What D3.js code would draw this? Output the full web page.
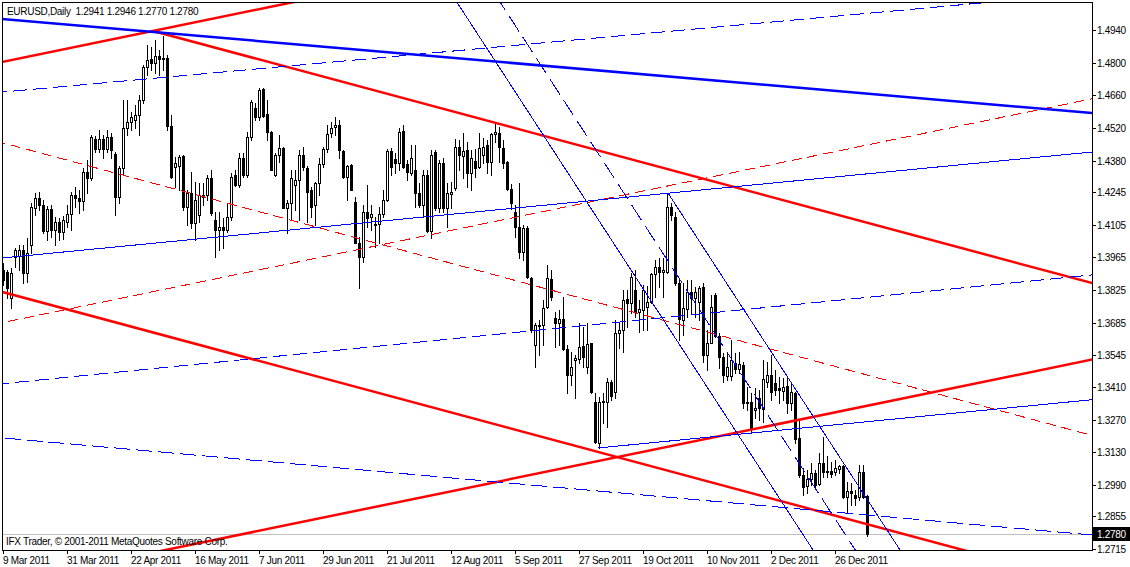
<!DOCTYPE html>
<html><head><meta charset="utf-8">
<script src="https://cdn.jsdelivr.net/npm/d3@7"></script>
<style>
html,body{margin:0;padding:0;background:#fff;overflow:hidden}
text{font-family:"Liberation Sans",Arial,sans-serif;font-size:10px;letter-spacing:-0.3px;fill:#000;white-space:pre}
</style>
</head><body>
<svg id="c" width="1130" height="567"></svg>
<script>
const symbolTitle = "EURUSD,Daily  1.2941 1.2946 1.2770 1.2780";
const copyright = "IFX Trader, \u00a9 2001-2011 MetaQuotes Software Corp.";
const lastPrice = 1.2780;

const opens = [1.3911,1.3902,1.3791,1.3967,1.3971,1.3997,1.3898,1.4018,1.4177,1.4220,
1.4190,1.4078,1.4173,1.4083,1.4117,1.4074,1.4117,1.4151,1.4233,1.4220,
1.4207,1.4331,1.4306,1.4473,1.4430,1.4473,1.4430,1.4481,1.4408,1.4224,
1.4348,1.4520,1.4546,1.4554,1.4576,1.4640,1.4781,1.4816,1.4799,1.4828,
1.4816,1.4820,1.4528,1.4353,1.4357,1.4400,1.4181,1.4241,1.4113,1.4147,
1.4224,1.4233,1.4306,1.4125,1.4083,1.4095,1.4083,1.4138,1.4318,1.4276,
1.4391,1.4318,1.4481,1.4606,1.4567,1.4687,1.4580,1.4503,1.4318,1.4404,
1.4434,1.4177,1.4198,1.4276,1.4297,1.4404,1.4348,1.4254,1.4190,1.4284,
1.4366,1.4430,1.4498,1.4524,1.4533,1.4421,1.4310,1.4361,1.4203,1.4027,
1.3967,1.4160,1.4138,1.4108,1.4108,1.4151,1.4211,1.4421,1.4387,1.4370,
1.4507,1.4366,1.4327,1.4340,1.4241,1.4190,1.4318,1.4078,1.4417,1.4177,
1.4370,1.4177,1.4237,1.4263,1.4438,1.4400,1.4426,1.4327,1.4378,1.4353,
1.4404,1.4447,1.4374,1.4494,1.4498,1.4434,1.4374,1.4258,1.4160,1.4095,
1.3988,1.4091,1.3877,1.3589,1.3671,1.3675,1.3752,1.3873,1.3705,1.3684,
1.3701,1.3572,1.3461,1.3525,1.3530,1.3585,1.3495,1.3598,1.3345,1.3169,
1.3345,1.3345,1.3431,1.3388,1.3641,1.3654,1.3787,1.3770,1.3825,1.3731,
1.3740,1.3752,1.3774,1.3894,1.3924,1.3902,1.3902,1.4181,1.4138,1.3855,
1.3697,1.3744,1.3817,1.3791,1.3774,1.3838,1.3547,1.3598,1.3804,1.3628,
1.3538,1.3457,1.3457,1.3512,1.3487,1.3504,1.3345,1.3345,1.3311,1.3362,
1.3315,1.3431,1.3461,1.3427,1.3405,1.3392,1.3414,1.3341,1.3384,1.3191,
1.3032,1.2985,1.3015,1.3041,1.2994,1.3084,1.3049,1.3049,1.3045,1.3058,
1.3071,1.2938,1.2964,1.2947,1.2938,1.3045,1.2941];

const highs = [1.3941,1.3911,1.3919,1.4005,1.4018,1.4018,1.4048,1.4198,1.4241,1.4246,
1.4211,1.4185,1.4190,1.4138,1.4134,1.4143,1.4190,1.4246,1.4267,1.4254,
1.4349,1.4383,1.4490,1.4486,1.4511,1.4490,1.4511,1.4498,1.4417,1.4357,
1.4640,1.4640,1.4589,1.4618,1.4661,1.4790,1.4876,1.4867,1.4897,1.4854,
1.4914,1.4833,1.4576,1.4396,1.4404,1.4404,1.4254,1.4331,1.4288,1.4284,
1.4284,1.4318,1.4340,1.4160,1.4160,1.4134,1.4198,1.4327,1.4340,1.4413,
1.4413,1.4503,1.4640,1.4627,1.4691,1.4691,1.4640,1.4507,1.4413,1.4490,
1.4438,1.4211,1.4340,1.4340,1.4426,1.4438,1.4357,1.4267,1.4288,1.4391,
1.4438,1.4533,1.4546,1.4567,1.4554,1.4426,1.4361,1.4366,1.4224,1.4053,
1.4190,1.4276,1.4190,1.4138,1.4181,1.4254,1.4430,1.4434,1.4413,1.4520,
1.4533,1.4383,1.4447,1.4447,1.4284,1.4340,1.4340,1.4426,1.4426,1.4383,
1.4391,1.4284,1.4288,1.4473,1.4468,1.4498,1.4460,1.4426,1.4430,1.4498,
1.4477,1.4468,1.4498,1.4541,1.4524,1.4468,1.4378,1.4280,1.4190,1.4284,
1.4104,1.4100,1.3881,1.3684,1.3697,1.3782,1.3932,1.3911,1.3731,1.3740,
1.3795,1.3589,1.3559,1.3547,1.3684,1.3667,1.3684,1.3598,1.3384,1.3366,
1.3384,1.3448,1.3440,1.3697,1.3684,1.3825,1.3825,1.3898,1.3911,1.3782,
1.3847,1.3843,1.3898,1.3954,1.3963,1.3963,1.4241,1.4198,1.4160,1.3868,
1.3855,1.3868,1.3868,1.3838,1.3843,1.3855,1.3654,1.3804,1.3813,1.3641,
1.3555,1.3559,1.3611,1.3555,1.3559,1.3517,1.3410,1.3384,1.3405,1.3397,
1.3525,1.3517,1.3547,1.3482,1.3452,1.3448,1.3448,1.3427,1.3388,1.3268,
1.3062,1.3054,1.3084,1.3054,1.3127,1.3195,1.3113,1.3088,1.3097,1.3075,
1.3075,1.3002,1.2998,1.2968,1.3075,1.3075,1.2946];

const lows = [1.3847,1.3791,1.3748,1.3924,1.3911,1.3855,1.3860,1.3984,1.4147,1.4168,
1.4070,1.4040,1.4053,1.4018,1.4040,1.4044,1.4095,1.4083,1.4181,1.4155,
1.4168,1.4241,1.4297,1.4417,1.4417,1.4391,1.4417,1.4391,1.4147,1.4198,
1.4318,1.4490,1.4511,1.4520,1.4490,1.4627,1.4747,1.4769,1.4756,1.4747,
1.4769,1.4511,1.4306,1.4267,1.4254,1.4168,1.4104,1.4091,1.4040,1.4117,
1.4190,1.4211,1.4147,1.3967,1.3997,1.4005,1.4074,1.4125,1.4271,1.4267,
1.4310,1.4310,1.4468,1.4554,1.4554,1.4567,1.4468,1.4340,1.4314,1.4374,
1.4177,1.4070,1.4125,1.4168,1.4125,1.4340,1.4117,1.4138,1.4104,1.4233,
1.4353,1.4417,1.4481,1.4490,1.4391,1.4306,1.4211,1.4254,1.4027,1.3834,
1.3945,1.4095,1.4083,1.4010,1.4027,1.4138,1.4207,1.4318,1.4327,1.4340,
1.4348,1.4297,1.4318,1.4181,1.4181,1.4138,1.4074,1.4048,1.4168,1.4160,
1.4160,1.4095,1.4177,1.4254,1.4340,1.4306,1.4267,1.4254,1.4310,1.4348,
1.4370,1.4327,1.4318,1.4460,1.4374,1.4348,1.4254,1.4173,1.4053,1.3963,
1.3954,1.3877,1.3645,1.3495,1.3547,1.3589,1.3748,1.3782,1.3581,1.3589,
1.3568,1.3384,1.3418,1.3362,1.3512,1.3495,1.3469,1.3384,1.3169,1.3148,
1.3255,1.3238,1.3354,1.3362,1.3577,1.3559,1.3667,1.3727,1.3710,1.3645,
1.3654,1.3654,1.3770,1.3795,1.3838,1.3795,1.3898,1.4125,1.3847,1.3611,
1.3632,1.3710,1.3727,1.3710,1.3697,1.3517,1.3482,1.3598,1.3624,1.3491,
1.3431,1.3440,1.3440,1.3469,1.3469,1.3319,1.3311,1.3212,1.3277,1.3268,
1.3259,1.3410,1.3354,1.3375,1.3341,1.3354,1.3298,1.3311,1.3169,1.3024,
1.2947,1.2955,1.2989,1.2981,1.2989,1.3024,1.3024,1.3024,1.3032,1.3041,
1.2934,1.2869,1.2904,1.2904,1.2925,1.2934,1.2770];

const closes = [1.3868,1.3834,1.3898,1.3997,1.3997,1.3898,1.3984,1.4181,1.4220,1.4190,
1.4078,1.4173,1.4083,1.4117,1.4074,1.4125,1.4151,1.4233,1.4220,1.4207,
1.4331,1.4306,1.4481,1.4430,1.4473,1.4430,1.4481,1.4426,1.4224,1.4348,
1.4520,1.4546,1.4567,1.4576,1.4640,1.4781,1.4811,1.4799,1.4828,1.4816,
1.4820,1.4529,1.4310,1.4370,1.4396,1.4181,1.4241,1.4113,1.4211,1.4233,
1.4233,1.4306,1.4155,1.4083,1.4095,1.4083,1.4138,1.4310,1.4276,1.4391,
1.4318,1.4481,1.4631,1.4567,1.4683,1.4571,1.4503,1.4340,1.4404,1.4434,
1.4177,1.4198,1.4306,1.4297,1.4404,1.4353,1.4246,1.4181,1.4284,1.4365,
1.4430,1.4494,1.4520,1.4533,1.4426,1.4310,1.4357,1.4254,1.4027,1.3967,
1.4160,1.4134,1.4151,1.4104,1.4151,1.4211,1.4421,1.4353,1.4370,1.4503,
1.4353,1.4331,1.4391,1.4241,1.4190,1.4318,1.4078,1.4404,1.4177,1.4370,
1.4177,1.4241,1.4246,1.4438,1.4404,1.4421,1.4327,1.4391,1.4348,1.4434,
1.4438,1.4374,1.4494,1.4503,1.4438,1.4370,1.4259,1.4198,1.4095,1.3988,
1.4091,1.3881,1.3654,1.3675,1.3675,1.3750,1.3877,1.3795,1.3684,1.3701,
1.3572,1.3461,1.3495,1.3534,1.3581,1.3538,1.3594,1.3388,1.3174,1.3345,
1.3349,1.3431,1.3371,1.3641,1.3654,1.3782,1.3770,1.3881,1.3731,1.3744,
1.3825,1.3774,1.3894,1.3924,1.3902,1.3911,1.4181,1.4147,1.3855,1.3701,
1.3748,1.3817,1.3791,1.3817,1.3834,1.3547,1.3598,1.3752,1.3628,1.3538,
1.3461,1.3495,1.3525,1.3486,1.3508,1.3341,1.3341,1.3234,1.3319,1.3319,
1.3444,1.3461,1.3388,1.3397,1.3397,1.3410,1.3341,1.3388,1.3187,1.3032,
1.2981,1.3015,1.3041,1.2989,1.3084,1.3045,1.3045,1.3036,1.3062,1.3071,
1.2938,1.2964,1.2955,1.2934,1.3045,1.2938,1.2780];

const priceTicks = [1.4940,1.4800,1.4660,1.4520,1.4380,1.4245,1.4105,1.3965,1.3825,1.3685,
1.3545,1.3410,1.3270,1.3130,1.2990,1.2855,1.2715];

const dateIdx = [0,16,32,48,64,80,96,112,128,144,160,176,192,208];
const dateLabels = ["9 Mar 2011","31 Mar 2011","22 Apr 2011","16 May 2011","7 Jun 2011",
"29 Jun 2011","21 Jul 2011","12 Aug 2011","5 Sep 2011","27 Sep 2011","19 Oct 2011",
"10 Nov 2011","2 Dec 2011","26 Dec 2011"];

// trendline anchors: bar index & price of two points
const trendNames = ["R1","R2","R3","R4","R5","R6","B1","B2","B3","B4","B5","B6","S1","S2","S3"];
const trendI1 = [0, 37.5, 0, 77, 0, 0, 0, 0, 0, 0, 0, 148.75, 131, 141.75, 166.25];
const trendP1 = [1.4804,1.4936,1.3816,1.2839,1.4456,1.3686,1.4987,1.4674,1.3963,1.3424,1.3191,1.3148,1.4597,1.4597,1.4241];
const trendI2 = [37.5, 272.25, 210, 272.25, 272.25, 272.25, 272.25, 210, 272.25, 272.25, 272.25, 272.25, 202.5, 213.75, 224.25];
const trendP2 = [1.4936,1.3855,1.2849,1.3527,1.3202,1.4645,1.4584,1.5002,1.4417,1.3890,1.2775,1.3355,1.2711,1.2693,1.2711];
const trendIsRay = [false,true,false,false,false,false,false,false,false,false,false,true,false,false,true];

// styles (kept separate from data)
const trendStyle = {
  R1:{c:"#ff0000",w:2.5,d:null}, R2:{c:"#ff0000",w:2.5,d:null}, R3:{c:"#ff0000",w:2.5,d:null},
  R4:{c:"#ff0000",w:2.5,d:null}, R5:{c:"#ff0000",w:1,d:"10,6"}, R6:{c:"#ff0000",w:1,d:"10,6"},
  B1:{c:"#0000ff",w:2.5,d:null}, B2:{c:"#0000ff",w:1,d:"14,6"}, B3:{c:"#0000ff",w:1,d:null},
  B4:{c:"#0000ff",w:1,d:"14,6"}, B5:{c:"#0000ff",w:1,d:"16,6"}, B6:{c:"#0000ff",w:1,d:null},
  S1:{c:"#0000ff",w:1,d:null}, S2:{c:"#0000ff",w:1,d:"18,7"}, S3:{c:"#0000ff",w:1,d:null}
};

const N = closes.length;
const L = 2, R = 1092, T = 2, B = 550;
const svg = d3.select("#c");
const x = d3.scaleLinear().domain([0, N - 1]).range([3, 867]);
const y = d3.scaleLinear().domain([1.27107, 1.5060]).range([B, T]);

svg.append("rect").attr("width",1130).attr("height",567).attr("fill","#fff");
svg.append("defs").append("clipPath").attr("id","plot")
  .append("rect").attr("x",L).attr("y",T).attr("width",R-L).attr("height",B-T);

// bid line
const yb = Math.round(y(lastPrice)) + 0.5;
svg.append("line").attr("x1",L).attr("x2",R).attr("y1",yb).attr("y2",yb)
  .attr("stroke","#c0c0c0").attr("stroke-width",1).attr("shape-rendering","crispEdges");

// candles
const cg = svg.append("g").attr("shape-rendering","crispEdges").attr("clip-path","url(#plot)");
const idx = d3.range(N);
const candle = cg.selectAll("g.c").data(idx).join("g").attr("class","c");
candle.append("rect")
  .attr("x", i => Math.round(x(i)))
  .attr("y", i => Math.round(y(highs[i])))
  .attr("width", 1)
  .attr("height", i => Math.round(y(lows[i])) - Math.round(y(highs[i])) + 1)
  .attr("fill", "#000");
candle.append("rect")
  .attr("x", i => Math.round(x(i)) - 1)
  .attr("y", i => Math.min(Math.round(y(opens[i])), Math.round(y(closes[i]))))
  .attr("width", 3)
  .attr("height", i => Math.abs(Math.round(y(opens[i])) - Math.round(y(closes[i]))) + 1)
  .attr("fill", "#000");
candle.filter(i => closes[i] > opens[i] && Math.abs(Math.round(y(opens[i])) - Math.round(y(closes[i]))) >= 2)
  .append("rect")
  .attr("x", i => Math.round(x(i)))
  .attr("y", i => Math.round(y(closes[i])) + 1)
  .attr("width", 1)
  .attr("height", i => Math.round(y(opens[i])) - Math.round(y(closes[i])) - 1)
  .attr("fill", "#fff");

// trendlines
const lg = svg.append("g").attr("clip-path","url(#plot)");
trendNames.forEach((name, k) => {
  const x1 = x(trendI1[k]), y1 = y(trendP1[k]);
  const x2 = x(trendI2[k]), y2 = y(trendP2[k]);
  const dx = x2 - x1, dy = y2 - y1;
  const t0 = trendIsRay[k] ? 0 : -20, t1 = 20;
  const st = trendStyle[name];
  const ln = lg.append("line")
    .attr("x1", x1 + t0*dx).attr("y1", y1 + t0*dy)
    .attr("x2", x1 + t1*dx).attr("y2", y1 + t1*dy)
    .attr("stroke", st.c).attr("stroke-width", st.w)
    .attr("shape-rendering", st.w > 1 ? "auto" : "crispEdges");
  if (st.d) ln.attr("stroke-dasharray", st.d);
});

// frame
svg.append("rect").attr("x",L+0.5).attr("y",T+0.5).attr("width",R-L).attr("height",B-T)
  .attr("fill","none").attr("stroke","#000").attr("shape-rendering","crispEdges");

// price axis
const pa = svg.append("g");
priceTicks.forEach(p => {
  const yy = Math.round(y(p)) + 0.5;
  pa.append("line").attr("x1",R).attr("x2",R+4).attr("y1",yy).attr("y2",yy)
    .attr("stroke","#000").attr("shape-rendering","crispEdges");
  pa.append("text").attr("x",R+5).attr("y",yy).attr("dy","0.35em").text(p.toFixed(4));
});
// last price label
const ylp = Math.round(y(lastPrice));
pa.append("rect").attr("x",R+1).attr("y",ylp-7).attr("width",1130-R-1).attr("height",14).attr("fill","#000");
pa.append("text").attr("x",R+5).attr("y",ylp+0.5).attr("dy","0.35em").style("fill","#fff").text(lastPrice.toFixed(4));

// date axis
const da = svg.append("g");
dateIdx.forEach((di, k) => {
  const xx = Math.round(x(di)) + 0.5;
  da.append("line").attr("x1",xx).attr("x2",xx).attr("y1",B).attr("y2",B+4)
    .attr("stroke","#000").attr("shape-rendering","crispEdges");
  da.append("text").attr("x",xx-0.5).attr("y",564).text(dateLabels[k]);
});

// texts
svg.append("text").attr("x",7).attr("y",15).text(symbolTitle);
svg.append("text").attr("x",6).attr("y",545).text(copyright);
</script>
</body></html>
